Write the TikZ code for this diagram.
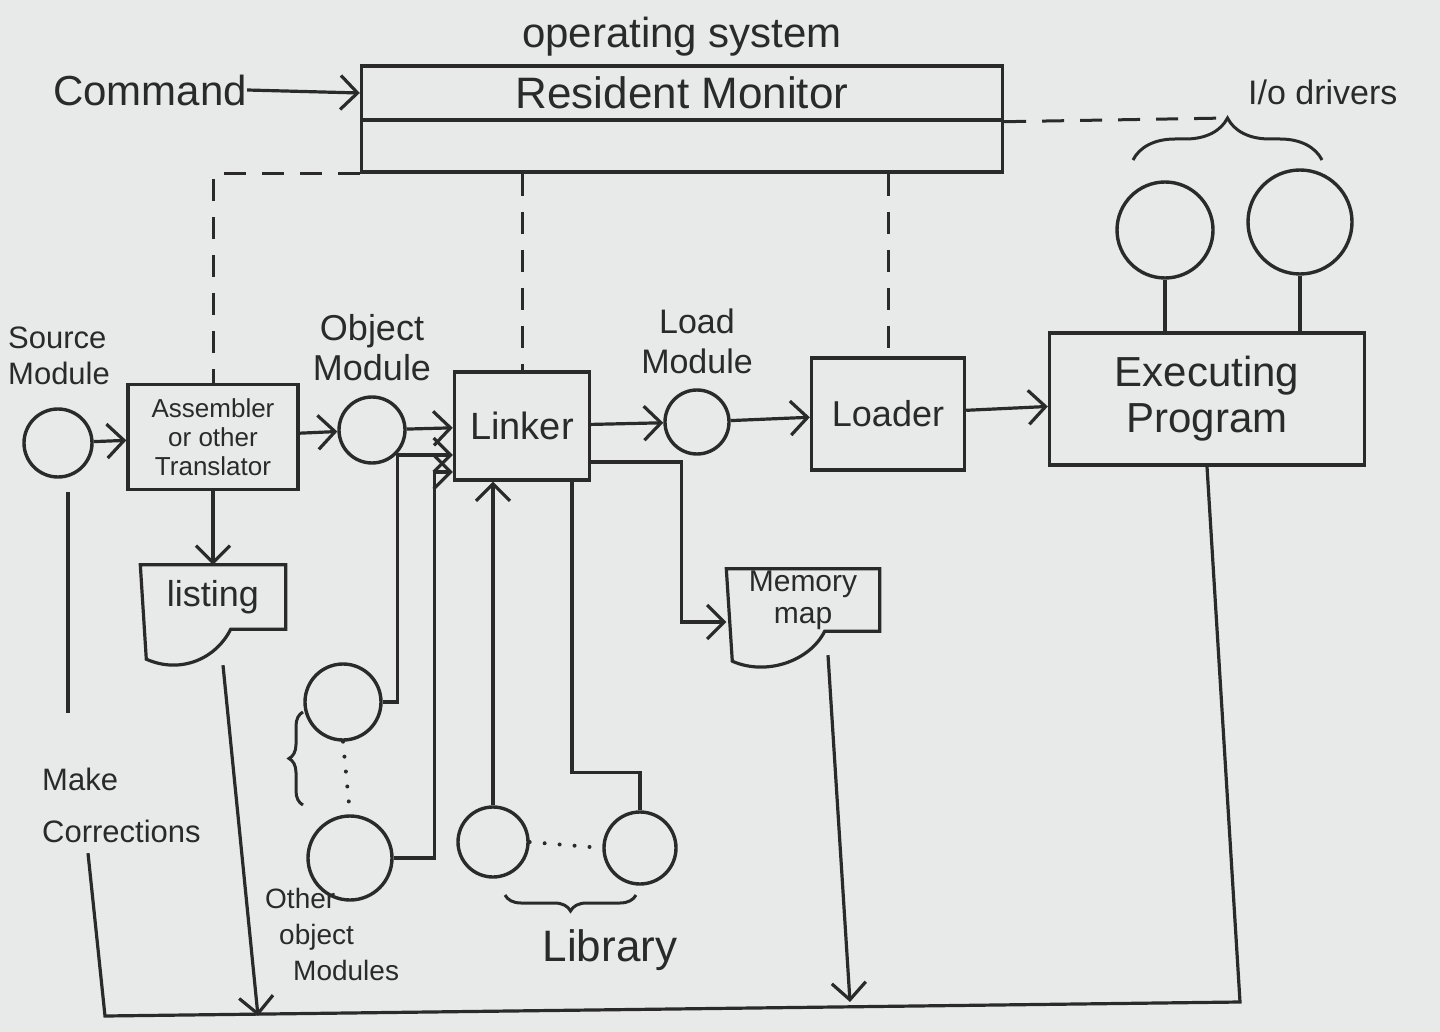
\documentclass[tikz,border=0pt]{standalone}
\usepackage{fontspec}
\setmainfont{Liberation Sans}
\usetikzlibrary{arrows.meta,positioning,calc,decorations.pathreplacing}
\definecolor{paper}{RGB}{232,234,233}
\definecolor{ink}{RGB}{42,42,42}
\tikzset{
  box/.style ={draw=ink,line width=3.4pt,text=ink,align=center,inner sep=2pt},
  mod/.style ={draw=ink,line width=3.4pt,circle,inner sep=0pt},
  doc/.style ={text=ink,align=center,inner sep=0pt},
  lbl/.style ={text=ink,align=center,inner sep=0pt},
  ar/.style  ={draw=ink,line width=3.2pt,-{Straight Barb[length=17pt,width=34pt]}},
  ln/.style  ={draw=ink,line width=3.2pt},
  dsh/.style ={draw=ink,line width=3pt,dash pattern=on 22pt off 16pt},
  dots/.style={draw=ink,line width=4pt,line cap=round,dash pattern=on 0pt off 15pt},
  brc/.style ={draw=ink,line width=3pt,decorate,decoration={brace,amplitude=#1}},
}
\newcommand{\fs}[2]{\fontsize{#1pt}{#2pt}\selectfont}
\newcommand{\docoutline}[1]{%
  \draw[ln] (#1.north west) -- (#1.north east) -- (#1.south east)
    -- ([xshift=-55pt]#1.south east)
    .. controls ([xshift=-70pt,yshift=-30pt]#1.south east) and ([xshift=40pt,yshift=-45pt]#1.south west)
    .. ([xshift=6pt,yshift=-30pt]#1.south west) -- cycle;}

\begin{document}
\begin{tikzpicture}[x=1pt,y=-1pt]
\useasboundingbox (0,0) rectangle (1440,1032);
\fill[paper] (0,0) rectangle (1440,1032);
% operating system
\node[box,minimum width=641pt,minimum height=54pt,font=\fs{44}{50}] (RM) at (682,93) {Resident Monitor};
\node[box,below=-3.4pt of RM,minimum width=641pt,minimum height=52pt] (OS) {};
\node[lbl,above=8pt of RM,font=\fs{42}{48}] (OSL) {operating system};
\node[lbl,font=\fs{42}{48}] (CMD) at (150,90) {Command};
% main row
\node[mod,minimum size=68pt] (SRC) at (58,443) {};
\node[lbl,anchor=south west,align=left,font=\fs{31}{36}] (SRCL) at (8,385) {Source\\Module};
\node[box,minimum width=170pt,minimum height=105pt,font=\fs{26}{29}] (ASM) at (213,437) {Assembler\\or other\\Translator};
\node[mod,minimum size=66pt] (OBJ) at (372,430) {};
\node[lbl,above=14pt of OBJ,font=\fs{36}{40}] (OBJL) {Object\\Module};
\node[box,minimum width=135pt,minimum height=108pt,font=\fs{38}{44}] (LNK) at (522,426) {Linker};
\node[mod,minimum size=64pt] (LM) at (697,422) {};
\node[lbl,above=14pt of LM,font=\fs{34}{40}] (LML) {Load\\Module};
\node[box,minimum width=153pt,minimum height=112pt,font=\fs{36}{42}] (LDR) at (888,414) {Loader};
\node[box,minimum width=315pt,minimum height=132pt,font=\fs{42}{46}] (EXE) at (1207,399) {Executing\\Program};
% io drivers
\node[mod,minimum size=96pt] (IO1) at (1165,230) {};
\node[mod,minimum size=104pt] (IO2) at (1300,222) {};
\node[lbl,anchor=west,font=\fs{34}{40}] (IOL) at (1248,92) {I/o drivers};
\coordinate (BT) at (1228,118);
% printed output
\node[doc,minimum width=145pt,minimum height=64pt,font=\fs{36}{40}] (LST) at (213,597) {listing};
\node[doc,minimum width=153pt,minimum height=62pt,font=\fs{30}{32}] (MEM) at (803,600) {Memory\\map};
\docoutline{LST}
\docoutline{MEM}
% other object modules
\node[mod,minimum size=76pt] (OM1) at (343,702) {};
\node[mod,minimum size=84pt] (OM2) at (350,858) {};
\node[lbl,anchor=north west,align=left,font=\fs{28}{36}] (OML) at (265,888) {Other\\\hspace*{14pt}object\\\hspace*{28pt}Modules};
% library
\node[mod,minimum size=70pt] (LIB1) at (493,842) {};
\node[mod,minimum size=72pt] (LIB2) at (640,848) {};
\node[lbl,font=\fs{44}{50}] (LIBL) at (610,950) {Library};
% corrections loop
\node[lbl,anchor=north west,align=left,font=\fs{31}{52}] (MK) at (42,768) {Make\\Corrections};
\coordinate (BL) at (105,1016);
\coordinate (BR) at (1240,1002);
% edges
\draw[ar] (CMD.east) -- (RM.west);
\draw[ar] (SRC) -- (ASM);
\draw[ar] (ASM) -- (OBJ);
\draw[ar] (OBJ) -- (LNK);
\draw[ar] (LNK) -- (LM);
\draw[ar] (LM) -- (LDR);
\draw[ar] (LDR) -- (EXE);
\draw[ar] (ASM) -- (LST);
\draw[ar] ([yshift=-36pt]LNK.east) -| ([xshift=-45pt,yshift=-22pt]MEM.west) -- ([yshift=-22pt]MEM.west);
\draw[ar] (OM1.east) -| ([xshift=-55pt,yshift=-29pt]LNK.west) -- ([yshift=-29pt]LNK.west);
\draw[ar] (OM2.east) -| ([xshift=-18pt,yshift=-46pt]LNK.west) -- ([yshift=-46pt]LNK.west);
\draw[ar] (LIB1.north) -- (LIB1.north |- LNK.south);
\draw[ln] (LIB2.north) -- ([yshift=38pt]LIB2.north) -| ([xshift=50pt]LNK.south);
\draw[ln] (IO1.south) -- (IO1.south |- EXE.north);
\draw[ln] (IO2.south) -- (IO2.south |- EXE.north);
\draw[ar] ([xshift=10pt,yshift=-36pt]LST.south) -- ($(LST.south |- BL)+(45pt,0)$);
\draw[ar] ([xshift=25pt,yshift=-24pt]MEM.south) -- ($(MEM.south |- BR)+(47pt,0)$);
\draw[ln] (EXE.south) -- (BR) -- (BL) -- ($(MK.south west)+(46pt,-10pt)$);
\draw[ln] ([xshift=10pt,yshift=-13pt]SRC.south) -- ($(SRC.south |- MK.north)+(10pt,55pt)$);
% monitor control lines
\draw[dsh] (OS.south west) -| (ASM.north);
\draw[dsh] (LNK.north |- OS.south) -- (LNK.north);
\draw[dsh] (LDR.north |- OS.south) -- (LDR.north);
\draw[dsh] (RM.south east) -- (BT);
% dots and braces
\draw[dots] (OM1.south) -- (OM2.north);
\draw[dots] (LIB1.east) -- (LIB2.west);
\draw[brc=42pt] (1133,160) -- (1322,160);
\draw[brc=14pt] (303,805) -- (303,712);
\draw[brc=16pt] (636,895) -- (505,895);
\end{tikzpicture}
\end{document}
